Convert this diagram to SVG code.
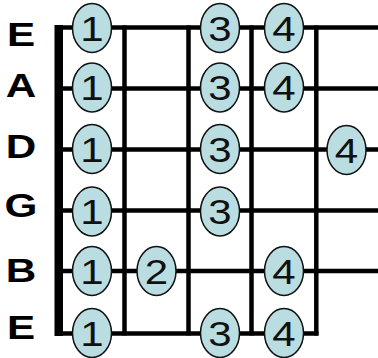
<svg xmlns="http://www.w3.org/2000/svg" width="378" height="358" viewBox="0 0 378 358">
<style>
.str{stroke:#000;stroke-width:4.5;fill:none}
.nut{fill:#000}
.dot{fill:#b9dde1;stroke:#111;stroke-width:1.5}
.num{font-family:"Liberation Sans",Arial,sans-serif;font-size:35px;fill:#111;text-anchor:middle}
.lbl{font-family:"Liberation Sans",Arial,sans-serif;font-size:33px;font-weight:bold;fill:#000;text-anchor:middle}
</style>
<rect width="378" height="358" fill="#fff"/>
<g id="labels">
<text class="lbl" transform="translate(21,45.5) scale(1.28,1)">E</text>
<text class="lbl" transform="translate(21,97) scale(1.28,1)">A</text>
<text class="lbl" transform="translate(21,158) scale(1.28,1)">D</text>
<text class="lbl" transform="translate(21,217) scale(1.28,1)">G</text>
<text class="lbl" transform="translate(21,281.5) scale(1.28,1)">B</text>
<text class="lbl" transform="translate(21,339) scale(1.28,1)">E</text>
</g>
<g id="connectors">
<line class="str" x1="56" y1="27.5" x2="378" y2="27.5"/>
<line class="str" x1="56" y1="88.5" x2="378" y2="88.5"/>
<line class="str" x1="56" y1="149.5" x2="378" y2="149.5"/>
<line class="str" x1="56" y1="210.5" x2="378" y2="210.5"/>
<line class="str" x1="56" y1="271" x2="378" y2="271"/>
<line class="str" x1="56" y1="333.5" x2="318.5" y2="333.5"/>
<line class="str" x1="124.5" y1="25.5" x2="124.5" y2="335.5"/>
<line class="str" x1="188.5" y1="25.5" x2="188.5" y2="335.5"/>
<line class="str" x1="251.5" y1="25.5" x2="251.5" y2="335.5"/>
<line class="str" x1="316.3" y1="25.5" x2="316.3" y2="335.5"/>
<rect class="nut" x="54.5" y="25" width="8.5" height="311"/>
</g>
<g id="n-E1"><ellipse class="dot" cx="92" cy="28" rx="19.5" ry="24.5"/><text class="num" transform="translate(92,40.5) scale(1.2,1)">1</text></g>
<g id="n-E3"><ellipse class="dot" cx="220" cy="28" rx="19.5" ry="24.5"/><text class="num" transform="translate(220,40.5) scale(1.2,1)">3</text></g>
<g id="n-E4"><ellipse class="dot" cx="284" cy="28" rx="19.5" ry="24.5"/><text class="num" transform="translate(284,40.5) scale(1.2,1)">4</text></g>
<g id="n-A1"><ellipse class="dot" cx="92" cy="87.5" rx="19.5" ry="24.5"/><text class="num" transform="translate(92,100) scale(1.2,1)">1</text></g>
<g id="n-A3"><ellipse class="dot" cx="220" cy="87.5" rx="19.5" ry="24.5"/><text class="num" transform="translate(220,100) scale(1.2,1)">3</text></g>
<g id="n-A4"><ellipse class="dot" cx="284" cy="87.5" rx="19.5" ry="24.5"/><text class="num" transform="translate(284,100) scale(1.2,1)">4</text></g>
<g id="n-D1"><ellipse class="dot" cx="92" cy="149" rx="19.5" ry="24.5"/><text class="num" transform="translate(92,161.5) scale(1.2,1)">1</text></g>
<g id="n-D3"><ellipse class="dot" cx="220" cy="149" rx="19.5" ry="24.5"/><text class="num" transform="translate(220,161.5) scale(1.2,1)">3</text></g>
<g id="n-D4"><ellipse class="dot" cx="346.5" cy="150" rx="19.5" ry="24.5"/><text class="num" transform="translate(346.5,162.5) scale(1.2,1)">4</text></g>
<g id="n-G1"><ellipse class="dot" cx="92" cy="211.5" rx="19.5" ry="24.5"/><text class="num" transform="translate(92,224) scale(1.2,1)">1</text></g>
<g id="n-G3"><ellipse class="dot" cx="220" cy="211.5" rx="19.5" ry="24.5"/><text class="num" transform="translate(220,224) scale(1.2,1)">3</text></g>
<g id="n-B1"><ellipse class="dot" cx="92" cy="271" rx="19.5" ry="24.5"/><text class="num" transform="translate(92,283.5) scale(1.2,1)">1</text></g>
<g id="n-B2"><ellipse class="dot" cx="156.5" cy="271" rx="19.5" ry="24.5"/><text class="num" transform="translate(156.5,283.5) scale(1.2,1)">2</text></g>
<g id="n-B4"><ellipse class="dot" cx="284" cy="271" rx="19.5" ry="24.5"/><text class="num" transform="translate(284,283.5) scale(1.2,1)">4</text></g>
<g id="n-e1"><ellipse class="dot" cx="92" cy="333" rx="19.5" ry="24.5"/><text class="num" transform="translate(92,345.5) scale(1.2,1)">1</text></g>
<g id="n-e3"><ellipse class="dot" cx="220" cy="333" rx="19.5" ry="24.5"/><text class="num" transform="translate(220,345.5) scale(1.2,1)">3</text></g>
<g id="n-e4"><ellipse class="dot" cx="284" cy="333" rx="19.5" ry="24.5"/><text class="num" transform="translate(284,345.5) scale(1.2,1)">4</text></g>
</svg>
